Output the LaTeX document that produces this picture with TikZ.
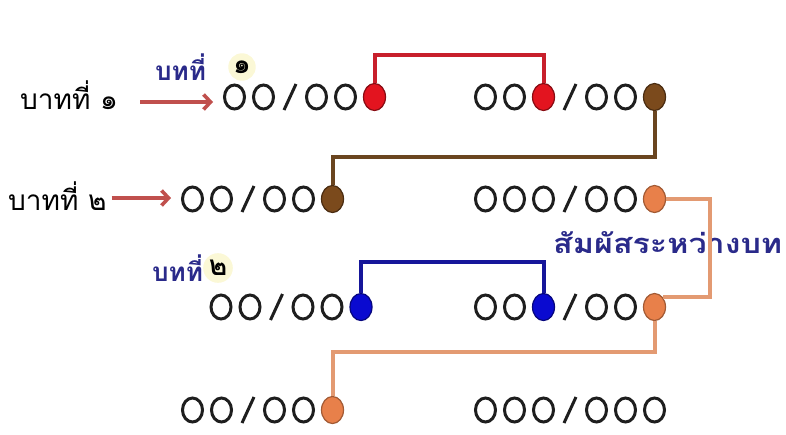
\documentclass[tikz,border=0pt]{standalone}
\usepackage{fontspec}
\newfontfamily\thaifont[Script=Thai]{Loma}
\usetikzlibrary{shapes.geometric,arrows.meta}
\definecolor{glyphInk}{HTML}{1E1E1E}
\definecolor{rhymeRed}{HTML}{E3141F}
\definecolor{rhymeBrown}{HTML}{7B4A1C}
\definecolor{rhymeOrange}{HTML}{E8804A}
\definecolor{rhymeBlue}{HTML}{0A0AD0}
\definecolor{lineRed}{HTML}{C8202C}
\definecolor{lineBrown}{HTML}{6A4520}
\definecolor{lineOrange}{HTML}{E39A72}
\definecolor{lineBlue}{HTML}{16169A}
\definecolor{labelBlue}{HTML}{2A2A8A}
\definecolor{arrowRed}{HTML}{C0504D}
\definecolor{haloYellow}{HTML}{FBF8D6}

\begin{document}
\begin{tikzpicture}
[x=1pt,y=-1pt,
  sylDecorate/.style={shape=ellipse,draw=glyphInk,line width=3pt,
    minimum width=20pt,minimum height=24pt,inner sep=0pt},
  dotDecorate/.style={shape=ellipse,line width=1.2pt,inner sep=0pt,
    minimum width=22pt,minimum height=27pt},
  redDot/.style={dotDecorate,fill=rhymeRed,draw=rhymeRed!60!black},
  brownDot/.style={dotDecorate,fill=rhymeBrown,draw=rhymeBrown!60!black},
  orangeDot/.style={dotDecorate,fill=rhymeOrange,draw=rhymeOrange!70!black},
  blueDot/.style={dotDecorate,fill=rhymeBlue,draw=rhymeBlue!60!black},
  slashDecorate/.style={draw=glyphInk,line width=3pt},
  lineDecorate/.style={draw=#1,line width=4pt},
  arrowDecorate/.style={draw=arrowRed,line width=3.6pt,-{Straight Barb[length=7pt,width=15pt]}},
  rowLabel/.style={font=\thaifont\fontsize{28}{32}\selectfont,inner sep=0pt},
  stanzaLabel/.style={font=\thaifont\bfseries\fontsize{26}{30}\selectfont,text=labelBlue,inner sep=0pt},
  numHalo/.style={shape=circle,fill=haloYellow,inner sep=2pt,font=\thaifont\bfseries\fontsize{28}{32}\selectfont}]
\useasboundingbox (0,0) rectangle (786,434);
%% labels
\node (pada1) [rowLabel,anchor=base west] at (20,109) {บาทที่ ๑};
\node (pada2) [rowLabel,anchor=base west] at (8,210) {บาทที่ ๒};
\node (stanza1) [stanzaLabel,anchor=base west] at (155,80) {บทที่};
\node (num1) [numHalo] at (242,67) {๑};
\node (stanza2) [stanzaLabel,anchor=base west] at (152,281) {บทที่};
\node (num2) [numHalo] at (218,268) {๒};
\node (contact) [stanzaLabel,anchor=base west] at (553,253) {\scalebox{1.24}[1.05]{สัมผัสระหว่างบท}};
%% syllables
\foreach \name/\x/\y/\look in {
  b1l1/234.5/97/sylDecorate, b1l2/263.5/97/sylDecorate, b1l3/316.5/97/sylDecorate,
  b1l4/345.5/97/sylDecorate, b1l5/374.5/97/redDot,
  b1r1/485.5/97/sylDecorate, b1r2/514.5/97/sylDecorate, b1r3/543.5/97/redDot,
  b1r4/596.5/97/sylDecorate, b1r5/625.5/97/sylDecorate, b1r6/654.5/97/brownDot,
  b2l1/192.5/199/sylDecorate, b2l2/221.5/199/sylDecorate, b2l3/274.5/199/sylDecorate,
  b2l4/303.5/199/sylDecorate, b2l5/332.5/199/brownDot,
  b2r1/485.5/199/sylDecorate, b2r2/514.5/199/sylDecorate, b2r3/543.5/199/sylDecorate,
  b2r4/596.5/199/sylDecorate, b2r5/625.5/199/sylDecorate, b2r6/654.5/199/orangeDot,
  b3l1/221/307/sylDecorate, b3l2/250/307/sylDecorate, b3l3/303/307/sylDecorate,
  b3l4/332/307/sylDecorate, b3l5/361/307/blueDot,
  b3r1/485.5/307/sylDecorate, b3r2/514.5/307/sylDecorate, b3r3/543.5/307/blueDot,
  b3r4/596.5/307/sylDecorate, b3r5/625.5/307/sylDecorate, b3r6/654.5/307/orangeDot,
  b4l1/192.5/410/sylDecorate, b4l2/221.5/410/sylDecorate, b4l3/274.5/410/sylDecorate,
  b4l4/303.5/410/sylDecorate, b4l5/332.5/410/orangeDot,
  b4r1/485.5/410/sylDecorate, b4r2/514.5/410/sylDecorate, b4r3/543.5/410/sylDecorate,
  b4r4/596.5/410/sylDecorate, b4r5/625.5/410/sylDecorate, b4r6/654.5/410/sylDecorate}
{
  \node (\name) at (\x,\y) [\look] {};
}
\foreach \x/\y in {290/97, 570/97, 248/199, 570/199, 276.5/307, 570/307, 248/410, 570/410}
  \draw[slashDecorate] (\x-6,\y+13) -- (\x+6,\y-13);
%% rhyme lines
\coordinate (redTop) at (0,55);
\coordinate (brownLow) at (0,157);
\coordinate (orangeSide) at (710,0);
\coordinate (orangeLow) at (0,352);
\coordinate (blueTop) at (0,262);
\draw[lineDecorate=lineRed] (b1l5.north) |- (redTop -| b1r3) -- (b1r3.north);
\draw[lineDecorate=lineBrown] (b1r6.south) |- (brownLow -| b2l5) -- (b2l5.north);
\draw[lineDecorate=lineOrange] (b2r6.east) -- (b2r6.east -| orangeSide) |- (b3r6.north east);
\draw[lineDecorate=lineOrange] (b3r6.south) |- (orangeLow -| b4l5) -- (b4l5.north);
\draw[lineDecorate=lineBlue] (b3l5.north) |- (blueTop -| b3r3) -- (b3r3.north);
%% arrows
\draw[arrowDecorate,shorten <=22pt,shorten >=10pt] ([yshift=7pt]pada1.base east) -- ([yshift=7pt]pada1.base east -| b1l1.west);
\draw[arrowDecorate,shorten <=5pt,shorten >=10pt] ([yshift=12pt]pada2.base east) -- ([yshift=12pt]pada2.base east -| b2l1.west);
\end{tikzpicture}
\end{document}
